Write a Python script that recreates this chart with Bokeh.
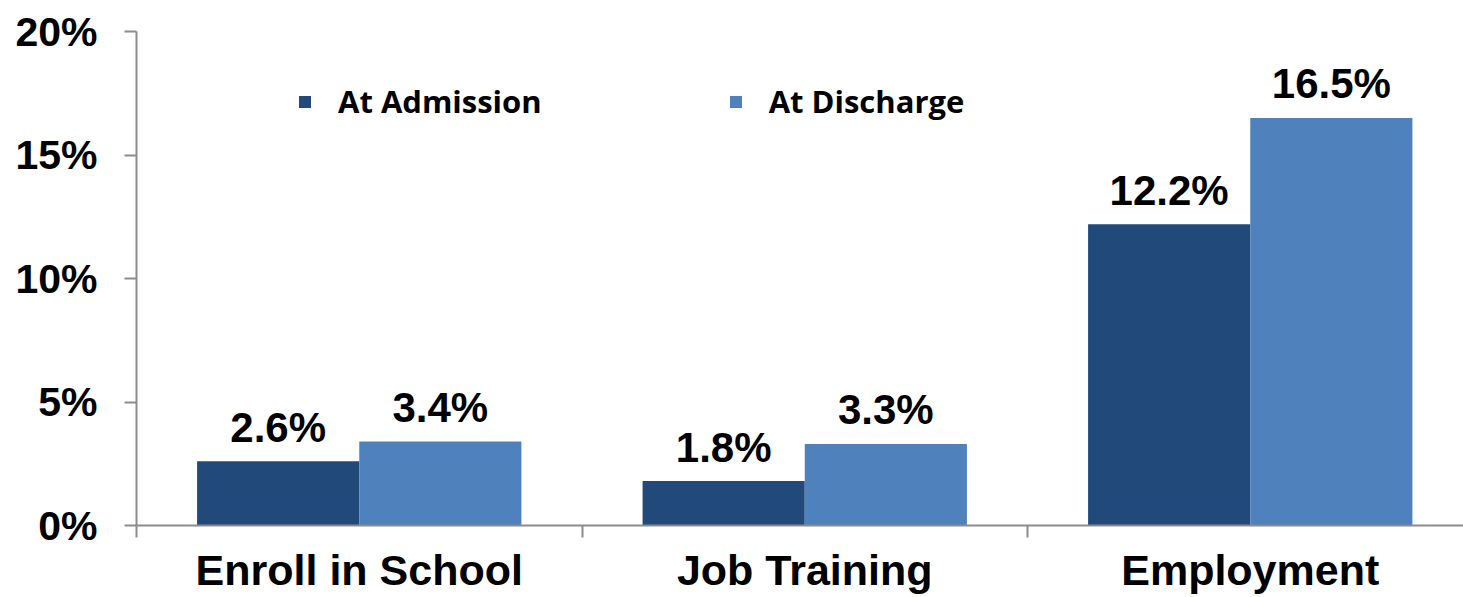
from bokeh.plotting import figure
from bokeh.models import Range1d, FixedTicker, ColumnDataSource, Legend, LegendItem
from bokeh.embed import file_html
from bokeh.resources import INLINE
from bokeh.core.properties import value
from bokeh.transform import dodge

# ---- data ----
categories = ["Enroll in School", "Job Training", "Employment"]
admission = [2.6, 1.8, 12.2]
discharge = [3.4, 3.3, 16.5]
series_names = ["At Admission", "At Discharge"]
y_ticks = [0, 5, 10, 15, 20]
y_tick_labels = ["0%", "5%", "10%", "15%", "20%"]

# ---- styling / layout ----
DARK = "#214A7B"
LIGHT = "#4F81BD"
AXIS_COLOR = "#8C8C8C"
FIG_W, FIG_H = 1463, 597
BORDER_L, BORDER_T, BORDER_B = 136, 31, 72
CAT_PX = 445.5
BAR_W = 0.364

frame_w = FIG_W - BORDER_L
x_end = frame_w / CAT_PX

centers = [i + 0.5 for i in range(len(categories))]
src = ColumnDataSource(dict(
    x=centers,
    adm=admission,
    dis=discharge,
    adm_label=[f"{v:.1f}%" for v in admission],
    dis_label=[f"{v:.1f}%" for v in discharge],
))

p = figure(width=FIG_W, height=FIG_H, output_backend="svg", toolbar_location=None,
           x_range=Range1d(0, x_end), y_range=Range1d(0, 20),
           min_border_left=BORDER_L, min_border_right=0,
           min_border_top=BORDER_T, min_border_bottom=BORDER_B)
p.outline_line_color = None
p.xgrid.visible = False
p.ygrid.visible = False
p.background_fill_color = "white"
p.border_fill_color = "white"

r_adm = p.vbar(x=dodge("x", -BAR_W / 2), top="adm", width=BAR_W, source=src,
               fill_color=DARK, line_color=None)
r_dis = p.vbar(x=dodge("x", BAR_W / 2), top="dis", width=BAR_W, source=src,
               fill_color=LIGHT, line_color=None)

lbl_kw = dict(text_align="center", text_baseline="alphabetic", y_offset=-34,
              text_font=value("Liberation Sans"), text_font_style="bold",
              text_font_size="42px", text_color="black", source=src)
p.text(x=dodge("x", -BAR_W / 2), y="adm", text="adm_label", **lbl_kw)
p.text(x=dodge("x", BAR_W / 2), y="dis", text="dis_label", **lbl_kw)

# x axis
xa = p.xaxis[0]
xa.ticker = FixedTicker(ticks=centers, minor_ticks=[0, 1, 2, 3])
xa.major_label_overrides = {c: lab for c, lab in zip(centers, categories)}
xa.major_tick_out = 0
xa.major_tick_in = 0
xa.minor_tick_out = 12
xa.minor_tick_in = 0
xa.minor_tick_line_color = AXIS_COLOR
xa.minor_tick_line_width = 2
xa.axis_line_color = AXIS_COLOR
xa.axis_line_width = 2
xa.major_label_standoff = 8
xa.major_label_text_font = "Liberation Sans"
xa.major_label_text_font_style = "bold"
xa.major_label_text_font_size = "43px"
xa.major_label_text_color = "black"

# y axis
ya = p.yaxis[0]
ya.ticker = FixedTicker(ticks=y_ticks)
ya.major_label_overrides = {t: lab for t, lab in zip(y_ticks, y_tick_labels)}
ya.major_tick_out = 12
ya.major_tick_in = 0
ya.minor_tick_out = 0
ya.minor_tick_in = 0
ya.major_tick_line_color = AXIS_COLOR
ya.major_tick_line_width = 2
ya.axis_line_color = AXIS_COLOR
ya.axis_line_width = 2
ya.major_label_standoff = 27
ya.major_label_text_font = "Liberation Sans"
ya.major_label_text_font_style = "bold"
ya.major_label_text_font_size = "41px"
ya.major_label_text_color = "black"

legend = Legend(items=[LegendItem(label=series_names[0], renderers=[r_adm]),
                       LegendItem(label=series_names[1], renderers=[r_dis])],
                orientation="horizontal", location=(161, 403),
                glyph_width=15, glyph_height=15, label_standoff=26, spacing=186,
                padding=0, margin=0, border_line_alpha=0, background_fill_alpha=0,
                label_text_font="Open Sans", label_text_font_style="bold",
                label_text_font_size="31px", label_text_color="black")
p.add_layout(legend)

open("out.html", "w").write(file_html(p, INLINE))
